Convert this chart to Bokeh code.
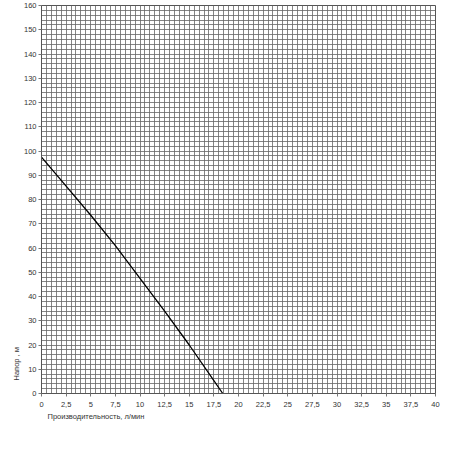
from bokeh.plotting import figure
from bokeh.models import SingleIntervalTicker, FixedTicker, Title
from bokeh.embed import file_html
from bokeh.resources import INLINE

# flow, l/min  -> head, m
flow = [0, 2.5, 5, 7.5, 10, 12.5, 15, 17.5, 18.4]
head = [97.5, 85.5, 73.5, 61, 47.5, 34, 20, 5.3, 0]

x_ticks = [0, 2.5, 5, 7.5, 10, 12.5, 15, 17.5, 20, 22.5, 25, 27.5, 30, 32.5, 35, 37.5, 40]
x_tick_labels = [str(t).replace(".", ",") if t % 1 else str(int(t)) for t in x_ticks]
y_ticks = list(range(0, 161, 10))

x_label = "Производительность, л/мин"
y_label = "Напор , м"

FONT = "Liberation Sans"

p = figure(frame_width=394, frame_height=388,
           x_range=(0, 40), y_range=(0, 160),
           min_border_left=41, min_border_right=6,
           min_border_top=5, min_border_bottom=4,
           output_backend="svg", toolbar_location=None)

p.background_fill_color = "white"
p.outline_line_color = "#555555"
p.outline_line_width = 1

# mm-paper style grid
p.xgrid.ticker = SingleIntervalTicker(interval=0.5, num_minor_ticks=0)
p.ygrid.ticker = SingleIntervalTicker(interval=2, num_minor_ticks=0)
for g in (p.xgrid, p.ygrid):
    g.grid_line_color = "#666666"
    g.grid_line_width = 0.8
    g.grid_line_alpha = 1.0

p.xaxis.ticker = FixedTicker(ticks=x_ticks)
p.xaxis.major_label_overrides = {t: lab for t, lab in zip(x_ticks, x_tick_labels)}
p.yaxis.ticker = FixedTicker(ticks=y_ticks)

for ax in (p.xaxis, p.yaxis):
    ax.axis_line_color = "#555555"
    ax.major_tick_line_color = "#777777"
    ax.major_tick_out = 3
    ax.major_tick_in = 0
    ax.minor_tick_line_color = None
    ax.major_label_text_font = FONT
    ax.major_label_text_font_size = "7.5px"
    ax.major_label_text_color = "#333333"
p.xaxis.major_label_standoff = 5
p.yaxis.major_label_standoff = 2

p.line(flow, head, line_color="black", line_width=1.3)

p.add_layout(Title(text=x_label, align="left", offset=6, standoff=1,
                   text_font=FONT, text_font_size="7.5px",
                   text_font_style="normal", text_color="#333333"), "below")

# y label sits low on the left side, not centred
p.add_layout(Title(text=y_label, align="left", offset=13, standoff=0,
                   text_font=FONT, text_font_size="7.5px",
                   text_font_style="normal", text_color="#333333"), "left")

open("out.html", "w").write(file_html(p, INLINE))
